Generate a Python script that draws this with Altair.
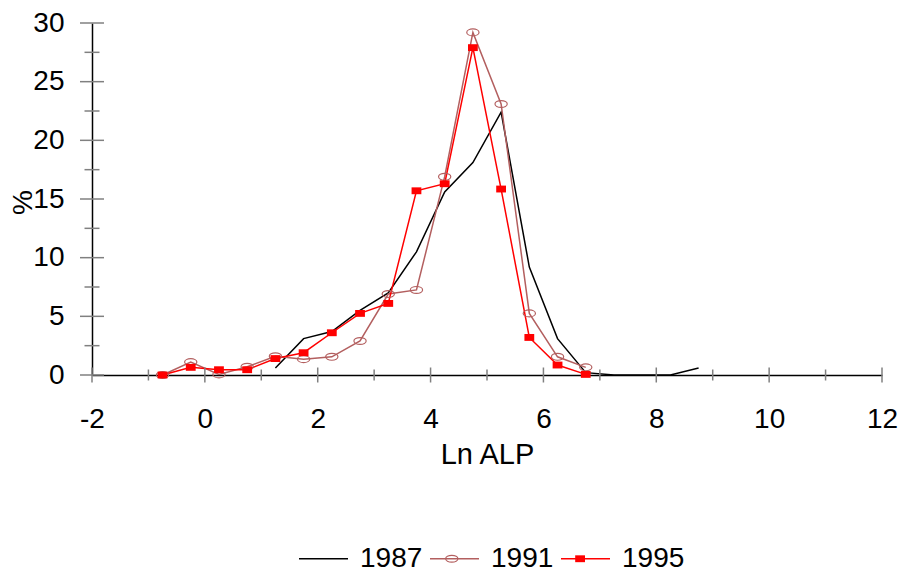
import altair as alt
import pandas as pd

# ---- data ----
series_names = ["1987", "1991", "1995"]

x_1987 = [1.25, 1.75, 2.25, 2.75, 3.25, 3.75, 4.25, 4.75, 5.25, 5.75, 6.25, 6.75, 7.25, 7.75, 8.25, 8.75]
y_1987 = [0.6, 3.1, 3.7, 5.5, 7.0, 10.5, 15.6, 18.1, 22.4, 9.2, 3.1, 0.2, 0.0, 0.0, 0.0, 0.6]

x_1991 = [-0.75, -0.25, 0.25, 0.75, 1.25, 1.75, 2.25, 2.75, 3.25, 3.75, 4.25, 4.75, 5.25, 5.75, 6.25, 6.75]
y_1991 = [0.0, 1.1, 0.05, 0.7, 1.6, 1.35, 1.55, 2.9, 6.9, 7.25, 16.9, 29.2, 23.1, 5.25, 1.55, 0.65]

x_1995 = [-0.75, -0.25, 0.25, 0.75, 1.25, 1.75, 2.25, 2.75, 3.25, 3.75, 4.25, 4.75, 5.25, 5.75, 6.25, 6.75]
y_1995 = [0.0, 0.65, 0.45, 0.45, 1.4, 1.9, 3.6, 5.25, 6.1, 15.7, 16.3, 27.9, 15.85, 3.2, 0.85, 0.05]

x_labels = [-2, 0, 2, 4, 6, 8, 10, 12]
y_labels = [0, 5, 10, 15, 20, 25, 30]
x_major_ticks = [-2, 0, 2, 4, 6, 8, 10, 12]
x_minor_ticks = [-1, 1, 3, 5, 7, 9, 11]
y_major_ticks = [0, 5, 10, 15, 20, 25, 30]
y_minor_ticks = [2.5, 7.5, 12.5, 17.5, 22.5, 27.5]

colors = ["#000000", "#b35f5f", "#ff0000"]
FONT = "Liberation Sans"
W, H = 790, 352

rows = []
for name, xs, ys in [("1987", x_1987, y_1987), ("1991", x_1991, y_1991), ("1995", x_1995, y_1995)]:
    for i, (a, b) in enumerate(zip(xs, ys)):
        rows.append({"series": name, "x": a, "pct": b, "idx": i})
df = pd.DataFrame(rows)

xscale = alt.Scale(domain=[-2, 12], nice=False, zero=False)
yscale = alt.Scale(domain=[0, 30], nice=False, zero=False)

xaxis = alt.Axis(values=x_labels, ticks=False, tickSize=0, grid=False, domainColor="black",
                 domainWidth=1.5, labelFont=FONT, labelFontSize=28, labelColor="black",
                 labelPadding=30, labelExpr="datum.value + ''",
                 title="Ln ALP", titleFont=FONT, titleFontSize=29,
                 titleFontWeight="normal", titleColor="black", titleY=88,
                 titleBaseline="alphabetic", labelFlush=False)
yaxis = alt.Axis(values=y_labels, ticks=False, tickSize=0, grid=False, domainColor="black",
                 domainWidth=1.5, labelFont=FONT, labelFontSize=28, labelColor="black",
                 labelPadding=28, labelExpr="datum.value + ''",
                 title="%", titleFont=FONT, titleFontSize=28,
                 titleFontWeight="normal", titleColor="black", titleAngle=270,
                 titleX=-69, titleY=179, titleBaseline="middle", titleAlign="center",
                 labelFlush=False)

# legend layout: the line legend carries the labels; two marker-only legends sit on top of it
LABEL_W = 4 * 0.5562 * 28  # width of a 4-digit label in Liberation Sans 28px
LEG = dict(orient="none", legendX=206, legendY=510, direction="horizontal", columns=3,
           title=None, labelFont=FONT, labelFontSize=28, symbolSize=2401, labelOffset=11)

leg_lines = alt.Legend(labelColor="black", symbolType="stroke", symbolStrokeWidth=1.5,
                       columnPadding=4, zindex=1, **LEG)
leg_91 = alt.Legend(labelExpr="''", columnPadding=4 + LABEL_W, symbolStrokeWidth=1.2,
                    symbolFillColor="white", zindex=2, **LEG)
leg_95 = alt.Legend(labelExpr="''", columnPadding=4 + LABEL_W, zindex=3, **LEG)

SIZE = 2401  # marker paths are drawn small inside the unit box
empty = "M0,0h0"
ellipse = "M-0.25,0A0.25,0.14 0 1,0 0.25,0A0.25,0.14 0 1,0 -0.25,0Z"
rect = "M-0.2,-0.14H0.2V0.14H-0.2Z"

base = alt.Chart(df)

lines = base.mark_line(clip=False).encode(
    x=alt.X("x:Q", scale=xscale, axis=xaxis),
    y=alt.Y("pct:Q", scale=yscale, axis=yaxis),
    color=alt.Color("series:N", scale=alt.Scale(domain=series_names, range=colors), legend=leg_lines),
    strokeWidth=alt.StrokeWidth("series:N", scale=alt.Scale(domain=series_names, range=[1.5, 1.5, 2.0]), legend=None),
    order="idx:Q",
)

pts91 = base.transform_filter(alt.datum.series == "1991").mark_point(
    filled=False, color=colors[1], strokeWidth=1.2, size=SIZE, opacity=1
).encode(
    x="x:Q", y="pct:Q",
    shape=alt.Shape("series:N", scale=alt.Scale(domain=series_names, range=[empty, ellipse, empty]), legend=leg_91),
)

pts95 = base.transform_filter(alt.datum.series == "1995").mark_point(
    filled=True, color=colors[2], size=SIZE, opacity=1
).encode(
    x="x:Q", y="pct:Q",
    shape=alt.Shape("series:N", scale=alt.Scale(domain=series_names, range=[empty, empty, rect]), legend=leg_95),
)

# crossing tick marks
ty_major = alt.Chart(pd.DataFrame({"v": y_major_ticks})).mark_rule(color="#808080", strokeWidth=1.5).encode(
    y="v:Q", x=alt.value(-12), x2=alt.value(12))
ty_minor = alt.Chart(pd.DataFrame({"v": y_minor_ticks})).mark_rule(color="#808080", strokeWidth=1.5).encode(
    y="v:Q", x=alt.value(-7.5), x2=alt.value(7.5))
tx_major = alt.Chart(pd.DataFrame({"v": x_major_ticks})).mark_rule(color="#808080", strokeWidth=1.5).encode(
    x="v:Q", y=alt.value(H - 7.5), y2=alt.value(H + 7.5))
tx_minor = alt.Chart(pd.DataFrame({"v": x_minor_ticks})).mark_rule(color="#808080", strokeWidth=1.5).encode(
    x="v:Q", y=alt.value(H - 5.5), y2=alt.value(H + 5.5))

chart = alt.layer(lines, ty_major, ty_minor, tx_major, tx_minor, pts91, pts95).resolve_scale(
    shape="independent"
).resolve_legend(shape="independent").properties(
    width=W, height=H,
    autosize=alt.AutoSizeParams(type="none"),
    padding={"left": 92, "top": 23, "right": 19, "bottom": 199},
    background="white",
).configure_view(stroke=None)

chart.save("out.html", embed_options={"renderer": "svg", "actions": False})
